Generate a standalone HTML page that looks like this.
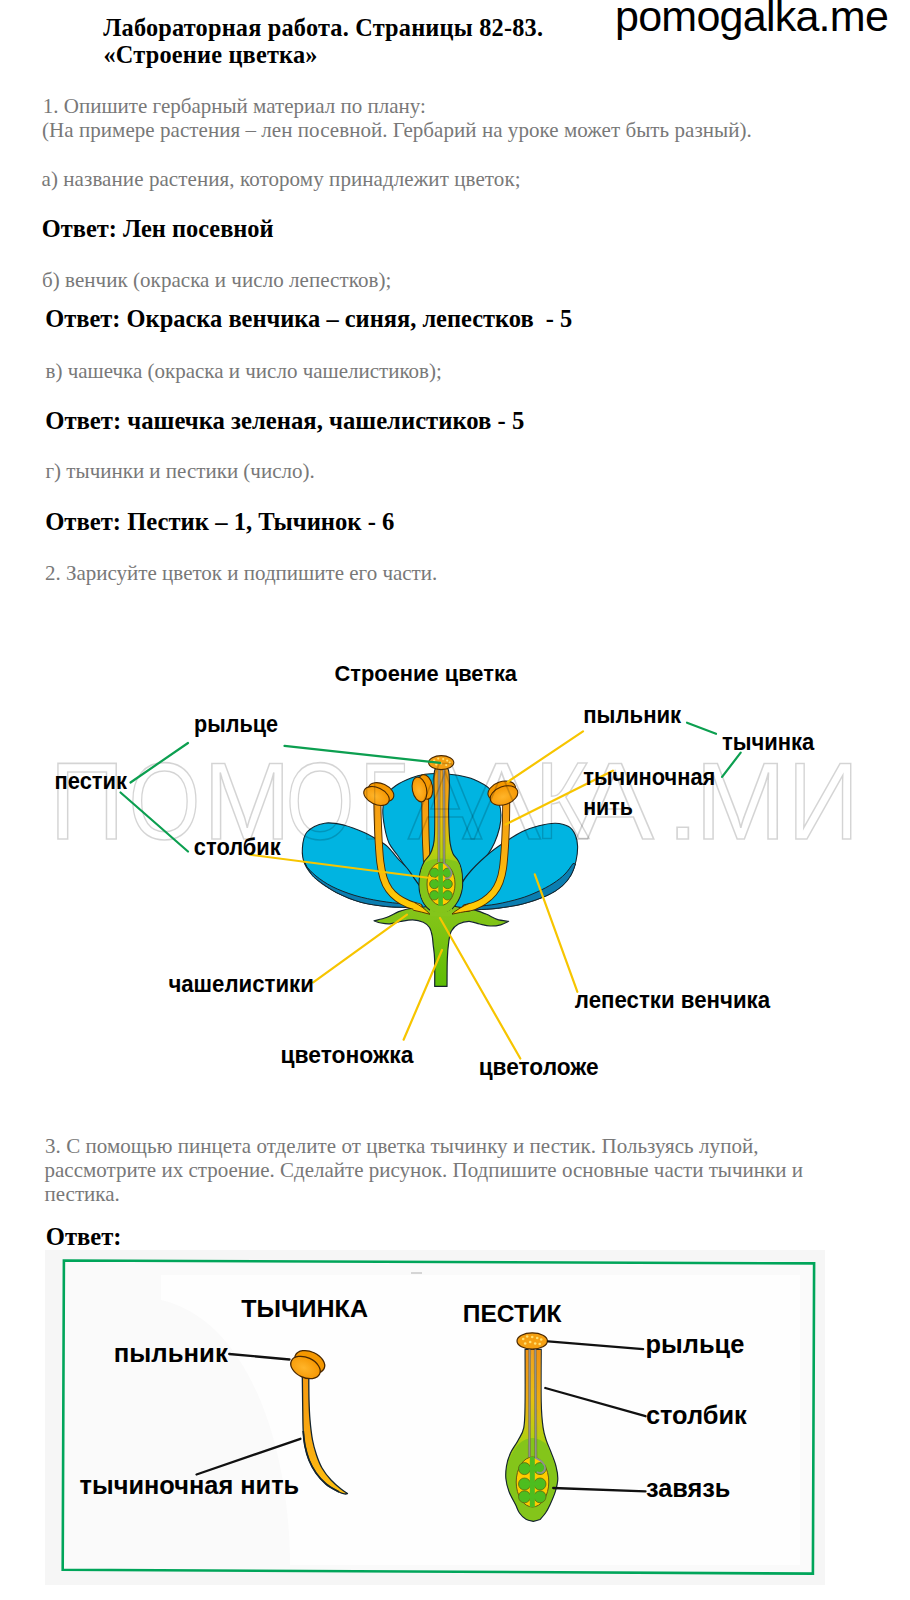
<!DOCTYPE html>
<html><head><meta charset="utf-8"><title>Строение цветка</title>
<style>
html,body{margin:0;padding:0;background:#fff;}
body{width:910px;height:1600px;position:relative;overflow:hidden;}
svg text{font-family:"Liberation Sans",sans-serif;font-weight:bold;}
</style></head><body>
<div style="position:absolute;left:103.3px;top:16.25px;font-family:'Liberation Serif', serif;font-size:24.30px;line-height:24.30px;font-weight:bold;color:#000;letter-spacing:0.200px;white-space:pre;">Лабораторная работа. Страницы 82-83.</div>
<div style="position:absolute;left:103.5px;top:42.95px;font-family:'Liberation Serif', serif;font-size:24.30px;line-height:24.30px;font-weight:bold;color:#000;letter-spacing:0.200px;white-space:pre;">«Строение цветка»</div>
<div style="position:absolute;left:615.0px;top:-5.10px;font-family:'Liberation Sans', sans-serif;font-size:43.00px;line-height:43.00px;font-weight:normal;color:#000;letter-spacing:-0.750px;white-space:pre;">pomogalka.me</div>
<div style="position:absolute;left:42.8px;top:96.21px;font-family:'Liberation Serif', serif;font-size:21.00px;line-height:21.00px;font-weight:normal;color:#787878;letter-spacing:0.000px;white-space:pre;">1. Опишите гербарный материал по плану:</div>
<div style="position:absolute;left:42.0px;top:120.31px;font-family:'Liberation Serif', serif;font-size:21.00px;line-height:21.00px;font-weight:normal;color:#787878;letter-spacing:0.050px;white-space:pre;">(На примере растения – лен посевной. Гербарий на уроке может быть разный).</div>
<div style="position:absolute;left:41.5px;top:169.21px;font-family:'Liberation Serif', serif;font-size:21.00px;line-height:21.00px;font-weight:normal;color:#787878;letter-spacing:0.080px;white-space:pre;">а) название растения, которому принадлежит цветок;</div>
<div style="position:absolute;left:42.0px;top:269.61px;font-family:'Liberation Serif', serif;font-size:21.00px;line-height:21.00px;font-weight:normal;color:#787878;letter-spacing:0.050px;white-space:pre;">б) венчик (окраска и число лепестков);</div>
<div style="position:absolute;left:45.5px;top:360.71px;font-family:'Liberation Serif', serif;font-size:21.00px;line-height:21.00px;font-weight:normal;color:#787878;letter-spacing:0.000px;white-space:pre;">в) чашечка (окраска и число чашелистиков);</div>
<div style="position:absolute;left:45.5px;top:461.21px;font-family:'Liberation Serif', serif;font-size:21.00px;line-height:21.00px;font-weight:normal;color:#787878;letter-spacing:0.000px;white-space:pre;">г) тычинки и пестики (число).</div>
<div style="position:absolute;left:45.0px;top:562.61px;font-family:'Liberation Serif', serif;font-size:21.00px;line-height:21.00px;font-weight:normal;color:#787878;letter-spacing:0.000px;white-space:pre;">2. Зарисуйте цветок и подпишите его части.</div>
<div style="position:absolute;left:45.0px;top:1136.01px;font-family:'Liberation Serif', serif;font-size:21.00px;line-height:21.00px;font-weight:normal;color:#787878;letter-spacing:0.050px;white-space:pre;">3. С помощью пинцета отделите от цветка тычинку и пестик. Пользуясь лупой,</div>
<div style="position:absolute;left:44.5px;top:1160.11px;font-family:'Liberation Serif', serif;font-size:21.00px;line-height:21.00px;font-weight:normal;color:#787878;letter-spacing:0.000px;white-space:pre;">рассмотрите их строение. Сделайте рисунок. Подпишите основные части тычинки и</div>
<div style="position:absolute;left:44.5px;top:1184.21px;font-family:'Liberation Serif', serif;font-size:21.00px;line-height:21.00px;font-weight:normal;color:#787878;letter-spacing:0.000px;white-space:pre;">пестика.</div>
<div style="position:absolute;left:41.8px;top:217.37px;font-family:'Liberation Serif', serif;font-size:24.40px;line-height:24.40px;font-weight:bold;color:#000;letter-spacing:0.000px;white-space:pre;">Ответ: Лен посевной</div>
<div style="position:absolute;left:45.3px;top:307.42px;font-family:'Liberation Serif', serif;font-size:24.45px;line-height:24.45px;font-weight:bold;color:#000;letter-spacing:0.000px;white-space:pre;">Ответ: Окраска венчика – синяя, лепестков <span style="display:inline-block;width:6px"></span>- 5</div>
<div style="position:absolute;left:45.2px;top:408.71px;font-family:'Liberation Serif', serif;font-size:24.70px;line-height:24.70px;font-weight:bold;color:#000;letter-spacing:0.000px;white-space:pre;">Ответ: чашечка зеленая, чашелистиков - 5</div>
<div style="position:absolute;left:45.2px;top:509.66px;font-family:'Liberation Serif', serif;font-size:24.65px;line-height:24.65px;font-weight:bold;color:#000;letter-spacing:0.000px;white-space:pre;">Ответ: Пестик – 1, Тычинок - 6</div>
<div style="position:absolute;left:45.8px;top:1224.70px;font-family:'Liberation Serif', serif;font-size:24.60px;line-height:24.60px;font-weight:bold;color:#000;letter-spacing:0.000px;white-space:pre;">Ответ:</div>
<svg width="910" height="1600" viewBox="0 0 910 1600" style="position:absolute;left:0;top:0">
<defs>
<linearGradient id="filG" gradientUnits="userSpaceOnUse" x1="0" y1="795" x2="0" y2="905"><stop offset="0" stop-color="#f59a12"/><stop offset="0.55" stop-color="#f9b010"/><stop offset="1" stop-color="#ffcb05"/></linearGradient>
<linearGradient id="styG" gradientUnits="userSpaceOnUse" x1="0" y1="770" x2="0" y2="880"><stop offset="0" stop-color="#f0a020"/><stop offset="0.45" stop-color="#e8c010"/><stop offset="0.75" stop-color="#b8d010"/><stop offset="1" stop-color="#84c51a"/></linearGradient>
<linearGradient id="styG2" gradientUnits="userSpaceOnUse" x1="0" y1="1349" x2="0" y2="1470"><stop offset="0" stop-color="#f0a020"/><stop offset="0.4" stop-color="#e8c010"/><stop offset="0.75" stop-color="#b0d010"/><stop offset="1" stop-color="#84c51a"/></linearGradient>
<linearGradient id="obG" gradientUnits="userSpaceOnUse" x1="0" y1="770" x2="0" y2="850"><stop offset="0" stop-color="#f29a10" stop-opacity="0.9"/><stop offset="0.6" stop-color="#f2a010" stop-opacity="0.6"/><stop offset="1" stop-color="#f2a010" stop-opacity="0"/></linearGradient>
<linearGradient id="obG2" gradientUnits="userSpaceOnUse" x1="0" y1="1349" x2="0" y2="1440"><stop offset="0" stop-color="#f09010" stop-opacity="0.9"/><stop offset="0.6" stop-color="#f0a010" stop-opacity="0.6"/><stop offset="1" stop-color="#f0a010" stop-opacity="0"/></linearGradient>
<radialGradient id="antG" cx="0.45" cy="0.55" r="0.6"><stop offset="0" stop-color="#ffb52a"/><stop offset="1" stop-color="#f59500"/></radialGradient>
</defs>
<rect x="45" y="1250" width="780" height="335" fill="#f6f6f6"/>
<polygon points="63.9,1260.5 814.1,1263.4 812.9,1573.6 62.7,1569.8" fill="#fafafa"/>
<path d="M161,1275 L800,1275 L800,1565 L290,1565 C290,1450 250,1320 161,1300Z" fill="#fefefe"/>
<polygon points="63.9,1260.5 814.1,1263.4 812.9,1573.6 62.7,1569.8" fill="none" stroke="#00a55a" stroke-width="2.6"/>
<line x1="411" y1="1273" x2="422" y2="1273" stroke="#b0b0b0" stroke-width="1"/>
<path d="M413.0,877.0 C409.7,872.7 407.7,869.8 405.0,866.0 C402.3,862.2 399.7,858.3 397.0,854.5 C394.3,850.7 391.1,847.7 389.0,843.0 C386.9,838.3 385.5,832.0 384.5,826.5 C383.5,821.0 382.6,815.1 382.8,810.0 C383.1,804.9 383.8,800.1 386.0,796.0 C388.2,791.9 391.8,788.5 396.0,785.5 C400.2,782.5 406.2,779.9 411.0,778.0 C415.8,776.1 420.2,775.0 425.0,774.3 C429.8,773.5 434.5,773.3 440.0,773.5 C445.5,773.7 452.3,774.3 458.0,775.3 C463.7,776.3 468.7,777.3 474.0,779.6 C479.3,781.9 485.6,784.9 489.7,788.9 C493.8,792.9 497.0,799.0 498.9,803.4 C500.8,807.8 500.9,810.9 501.0,815.0 C501.1,819.1 500.6,823.3 499.5,828.0 C498.4,832.7 496.3,838.6 494.4,843.0 C492.4,847.4 490.3,850.9 487.8,854.5 C485.3,858.1 482.9,861.1 479.6,864.4 C476.3,867.7 472.1,869.7 468.0,874.3 C463.9,878.9 459.5,887.7 455.0,892.0 C450.5,896.3 446.0,900.0 441.0,900.0 C436.0,900.0 429.7,895.8 425.0,892.0 C420.3,888.2 416.3,881.3 413.0,877.0Z" fill="#00b4e1" stroke="#15252e" stroke-width="1.1"/>
<path d="M425.0,909.0 C422.0,911.1 413.6,907.9 407.0,907.5 C400.4,907.1 393.3,907.3 385.6,906.4 C377.9,905.5 369.1,904.6 360.9,902.3 C352.7,900.0 343.6,896.2 336.2,892.4 C328.8,888.5 321.6,883.9 316.4,879.2 C311.2,874.5 307.2,869.6 304.9,864.4 C302.6,859.2 302.0,853.4 302.4,848.0 C302.8,842.6 303.3,836.1 307.0,832.0 C310.7,827.9 318.5,824.3 324.7,823.2 C330.9,822.1 337.8,823.7 344.4,825.2 C351.0,826.8 359.0,830.2 364.2,832.5 C369.4,834.8 371.9,836.5 375.8,838.8 C379.7,841.1 383.7,843.1 387.3,846.3 C390.9,849.5 393.9,854.2 397.2,857.8 C400.5,861.4 404.2,864.7 407.0,868.0 C409.8,871.3 410.7,873.1 413.7,877.6 C416.7,882.1 423.1,889.8 425.0,895.0 C426.9,900.2 428.0,906.9 425.0,909.0Z" fill="#00b4e1" stroke="#15252e" stroke-width="1.1"/>
<path d="M304.5,862.0 C305.4,863.7 308.0,869.1 310.0,872.0 C312.0,874.9 312.0,875.8 316.4,879.2 C320.8,882.6 328.8,888.5 336.2,892.4 C343.6,896.2 352.7,900.0 360.9,902.3 C369.1,904.6 377.9,905.5 385.6,906.4 C393.3,907.3 400.9,907.1 407.0,907.5 C413.1,907.9 419.5,908.3 422.0,908.5 L422.0,905.0 C419.0,904.8 411.0,904.7 404.0,904.0 C397.0,903.3 388.2,902.4 380.0,901.0 C371.8,899.6 363.0,897.9 355.0,895.5 C347.0,893.1 338.5,889.8 332.0,886.5 C325.5,883.2 320.3,879.4 316.0,876.0 C311.7,872.6 307.7,867.7 306.0,866.0 Z" fill="#0b7eb1" stroke="#15252e" stroke-width="1"/>
<path d="M456.5,910.5 C459.6,913.5 469.4,910.2 476.3,909.8 C483.2,909.4 490.0,909.2 497.7,908.2 C505.4,907.2 514.2,906.1 522.4,904.0 C530.6,901.9 540.4,898.5 547.0,895.5 C553.6,892.5 558.0,889.4 562.0,886.0 C566.0,882.6 568.7,879.2 571.0,875.0 C573.3,870.8 574.9,865.8 576.0,861.0 C577.1,856.2 577.7,850.7 577.6,846.3 C577.5,841.9 576.7,838.0 575.2,834.7 C573.7,831.4 571.9,828.4 568.6,826.5 C565.3,824.6 560.3,823.3 555.4,823.2 C550.5,823.1 544.5,824.3 539.0,825.7 C533.5,827.1 527.9,828.8 522.4,831.4 C516.9,834.0 511.8,837.4 506.0,841.3 C500.2,845.1 494.1,849.0 487.8,854.5 C481.5,860.0 473.0,868.0 468.0,874.3 C463.0,880.5 459.9,886.0 458.0,892.0 C456.1,898.0 453.4,907.5 456.5,910.5Z" fill="#00b4e1" stroke="#15252e" stroke-width="1.1"/>
<path d="M575.5,864.0 C574.8,865.8 573.2,871.3 571.0,875.0 C568.8,878.7 566.0,882.6 562.0,886.0 C558.0,889.4 553.6,892.5 547.0,895.5 C540.4,898.5 530.6,901.9 522.4,904.0 C514.2,906.1 505.4,907.2 497.7,908.2 C490.0,909.2 482.9,909.4 476.3,909.8 C469.7,910.2 461.1,910.4 458.0,910.5 L458.0,907.5 C461.0,907.3 469.5,907.1 476.0,906.5 C482.5,905.9 489.7,905.3 497.0,904.0 C504.3,902.7 513.3,900.5 520.0,898.5 C526.7,896.5 531.5,894.5 537.0,892.0 C542.5,889.5 548.3,886.5 553.0,883.5 C557.7,880.5 561.7,877.3 565.0,874.0 C568.3,870.7 571.7,865.2 573.0,863.5 Z" fill="#0b7eb1" stroke="#15252e" stroke-width="1"/>
<defs><linearGradient id="recG" gradientUnits="userSpaceOnUse" x1="0" y1="905" x2="0" y2="986"><stop offset="0" stop-color="#86c51c"/><stop offset="0.35" stop-color="#7cc312"/><stop offset="1" stop-color="#5dbd05"/></linearGradient></defs>
<path d="M434.7,986.4 C434.7,981.8 434.9,965.9 434.6,959.0 C434.4,952.1 433.6,948.8 433.2,945.0 C432.8,941.2 432.8,938.9 432.2,936.0 C431.6,933.1 431.0,929.8 429.5,927.5 C428.0,925.2 426.1,923.5 423.3,922.2 C420.5,920.9 416.5,919.9 412.7,919.8 C408.9,919.7 404.2,920.8 400.4,921.5 C396.6,922.2 393.2,923.5 390.0,923.8 C386.8,924.0 383.7,923.5 381.0,923.0 C378.3,922.5 375.2,921.2 374.0,920.8 L374.0,920.8 C376.1,920.2 382.3,919.0 386.4,917.5 C390.5,916.0 395.2,913.0 398.7,911.6 C402.2,910.2 404.6,909.7 407.5,909.0 C410.4,908.3 413.6,907.9 416.3,907.6 C419.1,907.3 421.7,907.4 424.0,907.0 C426.3,906.6 429.0,905.8 430.0,905.5 L441,909 L452.0,905.5 C453.0,905.8 455.8,906.5 458.0,907.0 C460.2,907.5 462.5,908.0 465.5,908.5 C468.5,909.0 472.5,909.3 476.0,910.3 C479.5,911.3 483.1,912.8 486.6,914.3 C490.1,915.8 493.4,918.2 497.1,919.4 C500.8,920.6 506.7,921.0 508.6,921.3 L508.6,921.3 C507.3,921.9 503.8,924.0 500.7,924.8 C497.6,925.6 493.5,926.1 490.0,926.0 C486.5,925.9 483.1,924.8 479.6,924.0 C476.1,923.2 472.5,921.3 469.0,921.3 C465.5,921.3 461.4,922.4 458.5,924.0 C455.6,925.6 453.0,928.1 451.4,931.0 C449.8,933.9 449.5,936.8 448.8,941.5 C448.1,946.2 447.6,951.5 447.3,959.0 C447.0,966.5 447.1,981.8 447.0,986.4 Z" fill="url(#recG)" stroke="#15252e" stroke-width="1.2" stroke-linejoin="round"/>
<path d="M377.3,798.0 C377.4,800.8 377.4,808.0 377.6,815.0 C377.8,822.0 378.2,832.2 378.6,840.0 C379.1,847.8 379.5,855.7 380.3,862.0 C381.1,868.3 382.1,873.4 383.5,878.0 C384.9,882.6 386.7,886.2 389.0,889.5 C391.3,892.8 394.3,895.6 397.5,898.0 C400.7,900.4 404.5,902.3 408.0,903.8 C411.5,905.3 416.8,906.5 418.5,907.0" fill="none" stroke="#4a2800" stroke-width="8.0" stroke-linecap="round"/><path d="M377.3,798.0 C377.4,800.8 377.4,808.0 377.6,815.0 C377.8,822.0 378.2,832.2 378.6,840.0 C379.1,847.8 379.5,855.7 380.3,862.0 C381.1,868.3 382.1,873.4 383.5,878.0 C384.9,882.6 386.7,886.2 389.0,889.5 C391.3,892.8 394.3,895.6 397.5,898.0 C400.7,900.4 404.5,902.3 408.0,903.8 C411.5,905.3 416.8,906.5 418.5,907.0" fill="none" stroke="url(#filG)" stroke-width="6.2" stroke-linecap="round"/>
<path d="M425.2,796.0 C425.2,799.2 425.2,807.7 425.3,815.0 C425.4,822.3 425.5,831.5 425.8,840.0 C426.1,848.5 426.8,861.7 427.0,866.0" fill="none" stroke="#4a2800" stroke-width="7.6" stroke-linecap="round"/><path d="M425.2,796.0 C425.2,799.2 425.2,807.7 425.3,815.0 C425.4,822.3 425.5,831.5 425.8,840.0 C426.1,848.5 426.8,861.7 427.0,866.0" fill="none" stroke="url(#filG)" stroke-width="5.8" stroke-linecap="round"/>
<path d="M506.2,800.0 C506.2,803.3 506.2,812.5 506.0,820.0 C505.8,827.5 505.5,837.0 505.0,845.0 C504.5,853.0 503.9,861.8 503.0,868.0 C502.1,874.2 501.1,877.9 499.5,882.0 C497.9,886.1 496.1,889.3 493.5,892.5 C490.9,895.7 487.2,898.8 484.0,901.0 C480.8,903.2 477.0,904.8 474.0,906.0 C471.0,907.2 467.3,907.7 466.0,908.0" fill="none" stroke="#4a2800" stroke-width="8.0" stroke-linecap="round"/><path d="M506.2,800.0 C506.2,803.3 506.2,812.5 506.0,820.0 C505.8,827.5 505.5,837.0 505.0,845.0 C504.5,853.0 503.9,861.8 503.0,868.0 C502.1,874.2 501.1,877.9 499.5,882.0 C497.9,886.1 496.1,889.3 493.5,892.5 C490.9,895.7 487.2,898.8 484.0,901.0 C480.8,903.2 477.0,904.8 474.0,906.0 C471.0,907.2 467.3,907.7 466.0,908.0" fill="none" stroke="url(#filG)" stroke-width="6.2" stroke-linecap="round"/>
<path d="M414.2,902.4 C420,905.3 425.5,909.2 430,914.3 C424.5,912.6 418.5,911.4 413.2,910.2Z" fill="#ffc808"/>
<path d="M414.2,902.4 C420,905.3 425.5,909.2 430,914.3 C424.5,912.6 418.5,911.4 413.2,910.2" fill="none" stroke="#4a2800" stroke-width="0.9"/>
<path d="M470,903.2 C463,906 457,909.5 451.5,914.3 C457.5,912.9 463.5,911.9 470.5,910.8Z" fill="#ffc808"/>
<path d="M470,903.2 C463,906 457,909.5 451.5,914.3 C457.5,912.9 463.5,911.9 470.5,910.8" fill="none" stroke="#4a2800" stroke-width="0.9"/>
<path d="M441.6,914.0 C438.6,913.9 434.0,912.8 431.0,911.0 C428.0,909.2 425.4,906.2 423.5,903.0 C421.6,899.8 420.3,895.8 419.6,892.0 C418.9,888.2 419.0,883.7 419.2,880.0 C419.4,876.3 419.8,873.1 420.7,870.0 C421.6,866.9 422.8,864.0 424.3,861.4 C425.9,858.8 428.5,857.0 430.0,854.3 C431.5,851.6 432.6,848.2 433.4,845.0 C434.1,841.8 434.3,840.5 434.5,835.0 C434.7,829.5 434.8,822.8 434.8,812.0 C434.9,801.2 432.5,777.0 434.8,770.0 C437.1,763.0 446.1,763.0 448.4,770.0 C450.7,777.0 448.5,801.7 448.6,812.0 C448.7,822.3 448.9,826.7 449.2,832.0 C449.5,837.3 449.6,840.0 450.2,843.6 C450.8,847.2 451.5,850.5 452.9,853.5 C454.3,856.5 457.2,858.6 458.6,861.4 C460.1,864.1 460.9,866.9 461.6,870.0 C462.3,873.1 462.5,877.0 462.6,880.0 C462.7,883.0 462.8,885.2 462.4,888.0 C462.0,890.8 461.1,894.2 460.0,897.0 C458.9,899.8 457.3,902.6 455.5,905.0 C453.7,907.4 451.3,910.0 449.0,911.5 C446.7,913.0 444.6,914.1 441.6,914.0Z" fill="url(#styG)" stroke="#15252e" stroke-width="1.1"/>
<path d="M435.5,771 L435.5,850 L438.2,850 L438.2,771Z" fill="url(#obG)"/>
<path d="M444.5,771 L444.5,850 L447.8,850 L447.8,771Z" fill="url(#obG)"/>
<path d="M441.6,913.0 C438.7,912.9 434.4,911.8 431.5,910.0 C428.6,908.2 425.9,905.5 424.0,902.5 C422.1,899.5 421.0,895.8 420.3,892.0 C419.6,888.2 419.7,883.6 419.9,880.0 C420.1,876.4 420.5,873.2 421.4,870.5 C422.2,867.8 423.4,865.2 425.0,863.5 C426.6,861.8 428.3,860.8 431.0,860.0 C433.7,859.2 437.7,858.5 441.0,858.5 C444.3,858.5 448.1,859.2 451.0,860.0 C453.9,860.8 456.8,861.0 458.5,863.0 C460.2,865.0 460.4,868.2 461.0,872.0 C461.6,875.8 462.1,882.0 461.8,886.0 C461.5,890.0 460.4,893.0 459.3,896.0 C458.2,899.0 456.7,901.6 455.0,904.0 C453.3,906.4 451.2,909.0 449.0,910.5 C446.8,912.0 444.5,913.1 441.6,913.0Z" fill="#84c51a"/>
<ellipse cx="441" cy="884" rx="14" ry="21.3" fill="#ffcc00" stroke="#6a5a10" stroke-width="1"/>
<circle cx="434.3" cy="872.8" r="4.7" fill="#4dbd1f" stroke="#5a6a10" stroke-width="0.8"/>
<circle cx="447.6" cy="872.8" r="4.7" fill="#4dbd1f" stroke="#5a6a10" stroke-width="0.8"/>
<circle cx="434.3" cy="884.0" r="4.7" fill="#4dbd1f" stroke="#5a6a10" stroke-width="0.8"/>
<circle cx="447.6" cy="884.0" r="4.7" fill="#4dbd1f" stroke="#5a6a10" stroke-width="0.8"/>
<circle cx="434.3" cy="895.3" r="4.7" fill="#4dbd1f" stroke="#5a6a10" stroke-width="0.8"/>
<circle cx="447.6" cy="895.3" r="4.7" fill="#4dbd1f" stroke="#5a6a10" stroke-width="0.8"/>
<rect x="438.3" y="863" width="4.6" height="43" fill="#4dbd1f"/>
<rect x="434" y="871.3" width="13" height="3" fill="#4dbd1f"/>
<rect x="434" y="882.5" width="13" height="3" fill="#4dbd1f"/>
<rect x="434" y="893.8" width="13" height="3" fill="#4dbd1f"/>
<path d="M439.1,768 L438.8,862" fill="none" stroke="#5a4a20" stroke-width="2.8" stroke-opacity="0.55"/>
<path d="M443.8,768 L444.1,863" fill="none" stroke="#5a4a20" stroke-width="2.8" stroke-opacity="0.55"/>
<path d="M439.1,768 L438.8,862" fill="none" stroke="#8e8e8e" stroke-width="1.7"/>
<path d="M443.8,768 L444.1,863 C447,866 452,869 451.5,874 C451,878.5 447,879 445,878" fill="none" stroke="#8e8e8e" stroke-width="1.6"/>
<ellipse cx="441.2" cy="762.6" rx="12.6" ry="7" fill="#f5a012" stroke="#4a2800" stroke-width="1.1"/>
<circle cx="434.2" cy="760.6" r="1.1" fill="#ffe070"/>
<circle cx="438.2" cy="758.6" r="1.1" fill="#ffe070"/>
<circle cx="443.2" cy="759.1" r="1.1" fill="#ffe070"/>
<circle cx="447.2" cy="760.6" r="1.1" fill="#ffe070"/>
<circle cx="436.2" cy="764.6" r="1.1" fill="#ffe070"/>
<circle cx="441.2" cy="763.6" r="1.1" fill="#ffe070"/>
<circle cx="446.2" cy="765.1" r="1.1" fill="#ffe070"/>
<circle cx="449.7" cy="762.6" r="1.1" fill="#ffe070"/>
<path d="M430,908 C434,914 448,914 452,908 L452,916 L430,916Z" fill="#84c51b"/>
<g transform="translate(376.5 796.0) rotate(25.0)"><ellipse cx="2.5" cy="-5.5" rx="13.5" ry="8.3" fill="#f59800" stroke="#4a2800" stroke-width="1.1"/><ellipse cx="0" cy="0" rx="13.5" ry="8.3" fill="url(#antG)" stroke="#4a2800" stroke-width="1.1"/></g>
<g transform="translate(419.5 789.5) rotate(-12.0)"><ellipse cx="6.3" cy="-1.3" rx="7.1" ry="12.5" fill="#f59800" stroke="#4a2800" stroke-width="1.1"/><ellipse cx="0" cy="0" rx="7.1" ry="12.5" fill="url(#antG)" stroke="#4a2800" stroke-width="1.1"/></g>
<g transform="translate(504.0 795.5) rotate(-20.0)"><ellipse cx="-0.5" cy="-5.2" rx="14.3" ry="9.0" fill="#f59800" stroke="#4a2800" stroke-width="1.1"/><ellipse cx="0" cy="0" rx="14.3" ry="9.0" fill="url(#antG)" stroke="#4a2800" stroke-width="1.1"/></g>
<g fill="none" stroke="#000" stroke-opacity="0.17" stroke-width="1.6" style="font-family:'Liberation Sans',sans-serif;font-weight:normal;font-size:109.5px"><text transform="translate(49.4 838.5) scale(0.952 1)" x="0" y="0" style="font-weight:normal">П</text><text transform="translate(128.6 838.5) scale(0.844 1)" x="0" y="0" style="font-weight:normal">О</text><text transform="translate(203.3 838.5) scale(0.960 1)" x="0" y="0" style="font-weight:normal">М</text><text transform="translate(285.8 838.5) scale(0.805 1)" x="0" y="0" style="font-weight:normal">О</text><text transform="translate(359.8 838.5) scale(0.780 1)" x="0" y="0" style="font-weight:normal">Г</text><text transform="translate(408.0 838.5) scale(1.013 1)" x="0" y="0" style="font-weight:normal">А</text><text transform="translate(462.1 838.5) scale(1.081 1)" x="0" y="0" style="font-weight:normal">Λ</text><text transform="translate(535.1 838.5) scale(0.857 1)" x="0" y="0" style="font-weight:normal">К</text><text transform="translate(576.1 838.5) scale(1.067 1)" x="0" y="0" style="font-weight:normal">А</text><text transform="translate(666.2 838.5) scale(1.083 1)" x="0" y="0" style="font-weight:normal">.</text><text transform="translate(695.0 838.5) scale(1.000 1)" x="0" y="0" style="font-weight:normal">М</text><text transform="translate(787.8 838.5) scale(0.903 1)" x="0" y="0" style="font-weight:normal">И</text></g>
<line x1="130.5" y1="782.5" x2="188.0" y2="743.0" stroke="#0c9f50" stroke-width="2.2" stroke-linecap="round"/>
<line x1="120.5" y1="792.5" x2="188.0" y2="851.5" stroke="#0c9f50" stroke-width="2.2" stroke-linecap="round"/>
<line x1="284.5" y1="745.8" x2="440.0" y2="762.8" stroke="#0c9f50" stroke-width="2.2" stroke-linecap="round"/>
<line x1="687.0" y1="722.7" x2="716.0" y2="733.8" stroke="#0c9f50" stroke-width="2.2" stroke-linecap="round"/>
<line x1="740.7" y1="752.6" x2="722.1" y2="776.9" stroke="#0c9f50" stroke-width="2.2" stroke-linecap="round"/>
<line x1="249.8" y1="854.7" x2="434.0" y2="878.5" stroke="#f7c500" stroke-width="2.2" stroke-linecap="round"/>
<line x1="313.2" y1="982.4" x2="407.0" y2="914.7" stroke="#f7c500" stroke-width="2.2" stroke-linecap="round"/>
<line x1="403.6" y1="1039.7" x2="442.0" y2="950.0" stroke="#f7c500" stroke-width="2.2" stroke-linecap="round"/>
<line x1="520.3" y1="1058.5" x2="440.0" y2="918.0" stroke="#f7c500" stroke-width="2.2" stroke-linecap="round"/>
<line x1="577.4" y1="991.8" x2="534.8" y2="874.3" stroke="#f7c500" stroke-width="2.2" stroke-linecap="round"/>
<line x1="583.0" y1="731.3" x2="508.1" y2="781.6" stroke="#f7c500" stroke-width="2.2" stroke-linecap="round"/>
<line x1="612.9" y1="770.7" x2="505.5" y2="824.5" stroke="#f7c500" stroke-width="2.2" stroke-linecap="round"/>
<text x="334.5" y="680.9" font-size="21.2" textLength="182.5" lengthAdjust="spacingAndGlyphs">Строение цветка</text>
<text x="194.0" y="731.7" font-size="24.0" textLength="84.0" lengthAdjust="spacingAndGlyphs">рыльце</text>
<text x="54.5" y="788.8" font-size="24.0" textLength="72.5" lengthAdjust="spacingAndGlyphs">пестик</text>
<text x="193.8" y="854.7" font-size="24.0" textLength="86.9" lengthAdjust="spacingAndGlyphs">столбик</text>
<text x="583.2" y="723.1" font-size="24.0" textLength="98.0" lengthAdjust="spacingAndGlyphs">пыльник</text>
<text x="722.0" y="750.0" font-size="24.0" textLength="92.3" lengthAdjust="spacingAndGlyphs">тычинка</text>
<text x="583.2" y="784.7" font-size="24.0" textLength="132.1" lengthAdjust="spacingAndGlyphs">тычиночная</text>
<text x="583.2" y="815.2" font-size="24.0" textLength="49.7" lengthAdjust="spacingAndGlyphs">нить</text>
<text x="168.4" y="992.1" font-size="24.0" textLength="145.4" lengthAdjust="spacingAndGlyphs">чашелистики</text>
<text x="280.5" y="1063.4" font-size="24.0" textLength="132.9" lengthAdjust="spacingAndGlyphs">цветоножка</text>
<text x="478.7" y="1074.9" font-size="24.0" textLength="120.0" lengthAdjust="spacingAndGlyphs">цветоложе</text>
<text x="574.8" y="1007.5" font-size="24.0" textLength="195.3" lengthAdjust="spacingAndGlyphs">лепестки венчика</text>
<defs><linearGradient id="sfG" gradientUnits="userSpaceOnUse" x1="0" y1="1375" x2="0" y2="1495"><stop offset="0" stop-color="#f59a10"/><stop offset="0.5" stop-color="#f8a812"/><stop offset="1" stop-color="#ffc010"/></linearGradient></defs>
<path d="M302.3,1375.0 C302.4,1379.2 302.5,1390.7 302.6,1400.0 C302.8,1409.3 302.8,1423.3 303.2,1431.0 C303.6,1438.7 304.0,1441.2 305.0,1446.0 C306.0,1450.8 307.2,1455.5 309.0,1460.0 C310.8,1464.5 313.2,1469.0 316.0,1473.0 C318.8,1477.0 322.2,1480.8 326.0,1484.0 C329.8,1487.2 335.8,1490.3 339.0,1492.0 C342.2,1493.7 344.4,1493.7 345.5,1494.0 L347.5,1493.5 C346.4,1492.8 343.8,1491.2 341.0,1489.0 C338.2,1486.8 334.2,1483.5 331.0,1480.0 C327.8,1476.5 324.4,1472.2 322.0,1468.0 C319.6,1463.8 318.1,1459.7 316.5,1455.0 C314.9,1450.3 313.6,1445.8 312.5,1440.0 C311.4,1434.2 310.6,1426.7 310.0,1420.0 C309.4,1413.3 309.2,1407.5 309.0,1400.0 C308.8,1392.5 308.8,1379.2 308.8,1375.0 Z" fill="url(#sfG)" stroke="#15252e" stroke-width="1.3" stroke-linejoin="round"/>
<path d="M303.2,1431.0 C303.5,1433.5 304.0,1441.2 305.0,1446.0 C306.0,1450.8 307.2,1455.5 309.0,1460.0 C310.8,1464.5 313.2,1469.0 316.0,1473.0 C318.8,1477.0 322.2,1480.8 326.0,1484.0 C329.8,1487.2 336.8,1490.7 339.0,1492.0" fill="none" stroke="#15252e" stroke-width="1.8"/>
<g transform="translate(305.5 1367.5) rotate(25)"><ellipse cx="1.5" cy="-6.8" rx="15.8" ry="10.2" fill="#f59800" stroke="#4a2800" stroke-width="1.3"/><ellipse cx="0" cy="0" rx="15.6" ry="10" fill="url(#antG)" stroke="#4a2800" stroke-width="1.3"/></g>
<path d="M533.5,1521.3 C532.2,1521.0 528.3,1520.6 526.0,1519.2 C523.7,1517.8 521.2,1515.5 519.5,1513.0 C517.8,1510.5 517.2,1508.0 515.5,1504.5 C513.8,1501.0 510.7,1496.0 509.1,1491.7 C507.5,1487.4 506.3,1483.1 505.9,1478.8 C505.5,1474.5 505.8,1470.3 506.5,1466.0 C507.2,1461.7 508.5,1457.5 510.4,1453.2 C512.3,1448.9 515.8,1444.7 518.0,1440.4 C520.2,1436.1 522.6,1434.0 523.8,1427.6 C525.0,1421.2 524.9,1415.0 525.1,1402.0 C525.3,1389.0 525.1,1358.2 525.1,1349.4 L541.2,1349.4 C541.2,1358.2 540.9,1389.0 541.2,1402.0 C541.5,1415.0 542.2,1421.2 543.1,1427.6 C544.0,1434.0 544.9,1436.1 546.3,1440.4 C547.7,1444.7 549.8,1448.9 551.4,1453.2 C553.0,1457.5 554.8,1461.7 555.9,1466.0 C557.0,1470.3 557.9,1474.5 557.8,1478.8 C557.7,1483.1 556.6,1487.4 555.3,1491.7 C554.0,1496.0 551.7,1501.0 550.1,1504.5 C548.5,1508.0 547.2,1510.5 545.5,1513.0 C543.8,1515.5 540.9,1518.4 540.0,1519.5 Z" fill="url(#styG2)" stroke="#15252e" stroke-width="1.2"/>
<path d="M533.5,1520.0 C531.2,1520.0 528.2,1519.3 526.0,1518.0 C523.8,1516.7 521.6,1514.4 520.0,1512.0 C518.4,1509.6 518.0,1506.9 516.3,1503.5 C514.6,1500.1 511.6,1495.6 510.0,1491.5 C508.4,1487.4 507.4,1483.0 507.0,1478.8 C506.6,1474.5 507.0,1470.1 507.8,1466.0 C508.6,1461.9 510.0,1457.8 512.0,1454.0 C514.0,1450.2 516.7,1445.7 520.0,1443.0 C523.3,1440.3 527.8,1438.0 532.0,1438.0 C536.2,1438.0 541.9,1440.5 545.0,1443.0 C548.1,1445.5 548.8,1449.4 550.5,1453.2 C552.2,1457.0 554.0,1461.7 555.0,1466.0 C556.0,1470.3 556.7,1474.5 556.6,1478.8 C556.5,1483.0 555.4,1487.4 554.2,1491.5 C553.0,1495.6 550.9,1500.1 549.3,1503.5 C547.7,1506.9 546.4,1509.5 544.8,1512.0 C543.2,1514.5 541.4,1517.0 539.5,1518.3 C537.6,1519.6 535.8,1520.0 533.5,1520.0Z" fill="#84c51a"/>
<path d="M525.8,1350 L525.8,1440 L529,1440 L529,1350Z" fill="url(#obG2)"/>
<path d="M536.5,1350 L536.5,1440 L540.6,1440 L540.6,1350Z" fill="url(#obG2)"/>
<ellipse cx="532.5" cy="1482" rx="16.3" ry="25" fill="#ffcc00" stroke="#6a5a10" stroke-width="1"/>
<circle cx="524.5" cy="1468.6" r="6" fill="#4dbd1f" stroke="#5a6a10" stroke-width="0.8"/>
<circle cx="540.0" cy="1468.6" r="6" fill="#4dbd1f" stroke="#5a6a10" stroke-width="0.8"/>
<circle cx="524.5" cy="1484.0" r="6" fill="#4dbd1f" stroke="#5a6a10" stroke-width="0.8"/>
<circle cx="540.0" cy="1484.0" r="6" fill="#4dbd1f" stroke="#5a6a10" stroke-width="0.8"/>
<circle cx="524.5" cy="1496.8" r="6" fill="#4dbd1f" stroke="#5a6a10" stroke-width="0.8"/>
<circle cx="540.0" cy="1496.8" r="6" fill="#4dbd1f" stroke="#5a6a10" stroke-width="0.8"/>
<rect x="529.8" y="1457" width="5" height="50" fill="#4dbd1f"/>
<rect x="524" y="1466.8" width="16" height="3.5" fill="#4dbd1f"/>
<rect x="524" y="1482.2" width="16" height="3.5" fill="#4dbd1f"/>
<rect x="524" y="1495.0" width="16" height="3.5" fill="#4dbd1f"/>
<path d="M529.6,1346 L529.4,1457" fill="none" stroke="#5a4a20" stroke-width="2.9" stroke-opacity="0.5"/>
<path d="M535.3,1346 L535.8,1458" fill="none" stroke="#5a4a20" stroke-width="2.9" stroke-opacity="0.5"/>
<path d="M529.6,1346 L529.4,1457" fill="none" stroke="#909090" stroke-width="1.8"/>
<path d="M535.3,1346 L535.8,1458 C540,1460 545,1463 545,1468 C545,1473 540,1474 537,1472" fill="none" stroke="#909090" stroke-width="1.7"/>
<ellipse cx="532.2" cy="1341" rx="15.2" ry="8.2" fill="#f5a012" stroke="#4a2800" stroke-width="1.2"/>
<circle cx="523.2" cy="1339.0" r="1.3" fill="#ffe070"/>
<circle cx="527.2" cy="1336.5" r="1.3" fill="#ffe070"/>
<circle cx="532.2" cy="1337.0" r="1.3" fill="#ffe070"/>
<circle cx="537.2" cy="1338.0" r="1.3" fill="#ffe070"/>
<circle cx="541.2" cy="1339.5" r="1.3" fill="#ffe070"/>
<circle cx="525.2" cy="1343.5" r="1.3" fill="#ffe070"/>
<circle cx="530.2" cy="1342.0" r="1.3" fill="#ffe070"/>
<circle cx="535.2" cy="1343.5" r="1.3" fill="#ffe070"/>
<circle cx="539.7" cy="1344.0" r="1.3" fill="#ffe070"/>
<line x1="229.2" y1="1354.0" x2="289.5" y2="1359.5" stroke="#111" stroke-width="2.3" stroke-linecap="round"/>
<line x1="196.5" y1="1474.5" x2="300.4" y2="1438.8" stroke="#111" stroke-width="2.3" stroke-linecap="round"/>
<line x1="548.2" y1="1341.3" x2="643.1" y2="1349.2" stroke="#111" stroke-width="2.3" stroke-linecap="round"/>
<line x1="545.3" y1="1388.0" x2="645.5" y2="1416.2" stroke="#111" stroke-width="2.3" stroke-linecap="round"/>
<line x1="553.2" y1="1488.0" x2="645.5" y2="1491.4" stroke="#111" stroke-width="2.3" stroke-linecap="round"/>
<text x="241.2" y="1316.7" font-size="24.0" textLength="126.8" lengthAdjust="spacingAndGlyphs">ТЫЧИНКА</text>
<text x="462.8" y="1321.8" font-size="24.0" textLength="98.7" lengthAdjust="spacingAndGlyphs">ПЕСТИК</text>
<text x="113.8" y="1361.5" font-size="26.0" textLength="114.0" lengthAdjust="spacingAndGlyphs">пыльник</text>
<text x="79.6" y="1493.8" font-size="26.0" textLength="219.6" lengthAdjust="spacingAndGlyphs">тычиночная нить</text>
<text x="645.6" y="1353.3" font-size="26.0" textLength="98.7" lengthAdjust="spacingAndGlyphs">рыльце</text>
<text x="645.9" y="1424.1" font-size="26.0" textLength="100.9" lengthAdjust="spacingAndGlyphs">столбик</text>
<text x="645.9" y="1496.6" font-size="26.0" textLength="84.5" lengthAdjust="spacingAndGlyphs">завязь</text>
</svg></body></html>
